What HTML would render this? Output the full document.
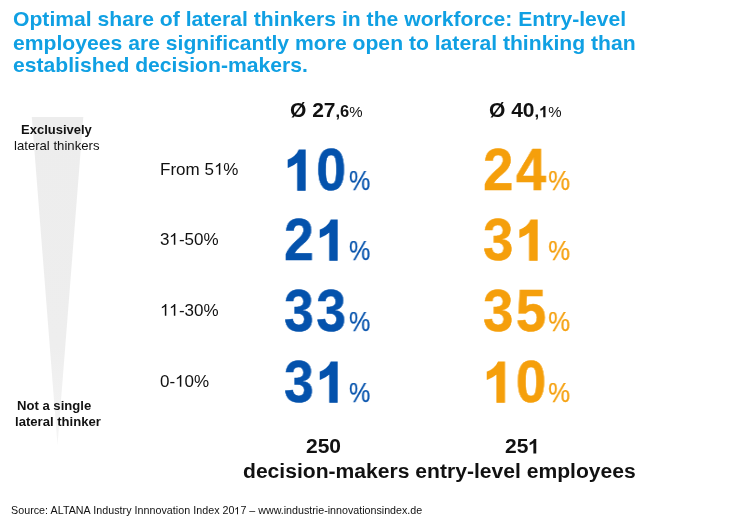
<!DOCTYPE html>
<html>
<head>
<meta charset="utf-8">
<title>Optimal share of lateral thinkers</title>
<style>
html,body{margin:0;padding:0;background:#fff;}
body{width:742px;height:524px;position:relative;overflow:hidden;font-family:"Liberation Sans",sans-serif;color:#111;}
.t{position:absolute;white-space:nowrap;line-height:1;will-change:transform;}
.title{left:12.9px;font-size:20.6px;font-weight:bold;color:#10a0e3;line-height:22.6px;transform-origin:0 0;}
.b{font-weight:bold;}
.lab{font-size:17px;left:159.6px;}
.big{font-size:58.5px;font-weight:bold;transform:scaleX(0.915);transform-origin:0 0;letter-spacing:2.7px;-webkit-text-stroke:0.5px currentColor;}
.big .p{font-size:27.5px;font-weight:normal;display:inline-block;transform:scaleX(0.955);transform-origin:0 0;margin-left:0.4px;letter-spacing:0;-webkit-text-stroke:0.25px currentColor;}
.one{display:inline-block;width:0.5562em;height:0.688em;vertical-align:baseline;fill:currentColor;overflow:visible;}
.big .one{margin-right:2.7px;stroke:currentColor;stroke-width:44;stroke-linejoin:miter;}
.h{font-size:0;letter-spacing:0;-webkit-text-stroke:0;}
.blue{color:#0452ac;}
.org{color:#f59f0b;transform:scaleX(0.932);}
.org .p{margin-left:-0.6px;}
.avg{font-size:21px;font-weight:bold;}
.avg .s{font-size:16.5px;}
.avg .p{font-size:15px;font-weight:normal;}
</style>
</head>
<body>
<svg class="t" style="left:0;top:0" width="742" height="524">
<defs><path id="b1" d="M806 0H525V-1059Q371 -915 162 -846V-1101Q272 -1137 401 -1237.5T578 -1472H806Z"/><path id="r1" d="M763 0H583V-1147Q518 -1085 412.5 -1023T223 -930V-1104Q373 -1174.5 485 -1274.5T644 -1472H763Z"/><linearGradient id="g" x1="0" y1="0" x2="0" y2="1"><stop offset="0" stop-color="#ededed"/><stop offset="0.7" stop-color="#eeeeee"/><stop offset="1" stop-color="#f5f5f5"/></linearGradient></defs>
<polygon points="31.8,117 83.3,117 57.5,445" fill="url(#g)"/>
</svg>
<div class="t title" style="top:8px;transform:translateY(0.4px) scaleX(1.0265)">Optimal share of lateral thinkers in the workforce: Entry-level</div>
<div class="t title" style="top:31px;transform:translateY(0.7px) scaleX(1.0265)">employees are significantly more open to lateral thinking than</div>
<div class="t title" style="top:54px;transform:translateY(0px) scaleX(1.0265)">established decision-makers.</div>

<div class="t b" style="left:21px;top:122.8px;font-size:13px;">Exclusively</div>
<div class="t" style="left:13.6px;top:139px;font-size:13.15px;">lateral thinkers</div>
<div class="t b" style="left:16.9px;top:399.4px;font-size:13.1px;">Not a single</div>
<div class="t b" style="left:15px;top:415.3px;font-size:13.1px;">lateral thinker</div>

<div class="t lab" style="top:161px;">From 5<svg class="one" viewBox="0 -1472 1139 1472" preserveAspectRatio="none"><use href="#r1"/></svg><span class="h">1</span>%</div>
<div class="t lab" style="top:231px;">3<svg class="one" viewBox="0 -1472 1139 1472" preserveAspectRatio="none"><use href="#r1"/></svg><span class="h">1</span>-50%</div>
<div class="t lab" style="top:302px;"><svg class="one" viewBox="0 -1472 1139 1472" preserveAspectRatio="none"><use href="#r1"/></svg><span class="h">1</span><svg class="one" viewBox="0 -1472 1139 1472" preserveAspectRatio="none"><use href="#r1"/></svg><span class="h">1</span>-30%</div>
<div class="t lab" style="top:373px;">0-<svg class="one" viewBox="0 -1472 1139 1472" preserveAspectRatio="none"><use href="#r1"/></svg><span class="h">1</span>0%</div>

<div class="t avg" style="left:290px;top:98.6px;">Ø 27<span class="s">,6</span><span class="p">%</span></div>
<div class="t avg" style="left:489.2px;top:98.6px;">Ø 40<span class="s">,<svg class="one" viewBox="0 -1472 1139 1472" preserveAspectRatio="none"><use href="#b1"/></svg><span class="h">1</span></span><span class="p">%</span></div>

<div class="t big blue" style="left:283.8px;top:141.1px;"><svg class="one" viewBox="0 -1472 1139 1472" preserveAspectRatio="none"><use href="#b1"/></svg><span class="h">1</span>0<span class="p">%</span></div>
<div class="t big blue" style="left:283.8px;top:211.1px;">2<svg class="one" viewBox="0 -1472 1139 1472" preserveAspectRatio="none"><use href="#b1"/></svg><span class="h">1</span><span class="p">%</span></div>
<div class="t big blue" style="left:283.8px;top:282.1px;">33<span class="p">%</span></div>
<div class="t big blue" style="left:283.8px;top:353.1px;">3<svg class="one" viewBox="0 -1472 1139 1472" preserveAspectRatio="none"><use href="#b1"/></svg><span class="h">1</span><span class="p">%</span></div>

<div class="t big org" style="left:483px;top:141.1px;">24<span class="p">%</span></div>
<div class="t big org" style="left:483px;top:211.1px;">3<svg class="one" viewBox="0 -1472 1139 1472" preserveAspectRatio="none"><use href="#b1"/></svg><span class="h">1</span><span class="p">%</span></div>
<div class="t big org" style="left:483px;top:282.1px;">35<span class="p">%</span></div>
<div class="t big org" style="left:483px;top:353.1px;"><svg class="one" viewBox="0 -1472 1139 1472" preserveAspectRatio="none"><use href="#b1"/></svg><span class="h">1</span>0<span class="p">%</span></div>

<div class="t b" style="left:305.5px;top:435.3px;font-size:21px;">250</div>
<div class="t b" style="left:505.2px;top:435.3px;font-size:21px;">25<svg class="one" viewBox="0 -1472 1139 1472" preserveAspectRatio="none"><use href="#b1"/></svg><span class="h">1</span></div>
<div class="t b" style="left:243.3px;top:460.1px;font-size:21.1px;">decision-makers entry-level employees</div>

<div class="t" style="left:11px;top:504.9px;font-size:10.7px;"><span style="letter-spacing:0.04px">Source: ALTANA Industry Innnovation Index</span> 20<svg class="one" viewBox="0 -1472 1139 1472" preserveAspectRatio="none"><use href="#r1"/></svg><span class="h">1</span>7 – www.industrie-innovationsindex.de</div>
</body>
</html>
